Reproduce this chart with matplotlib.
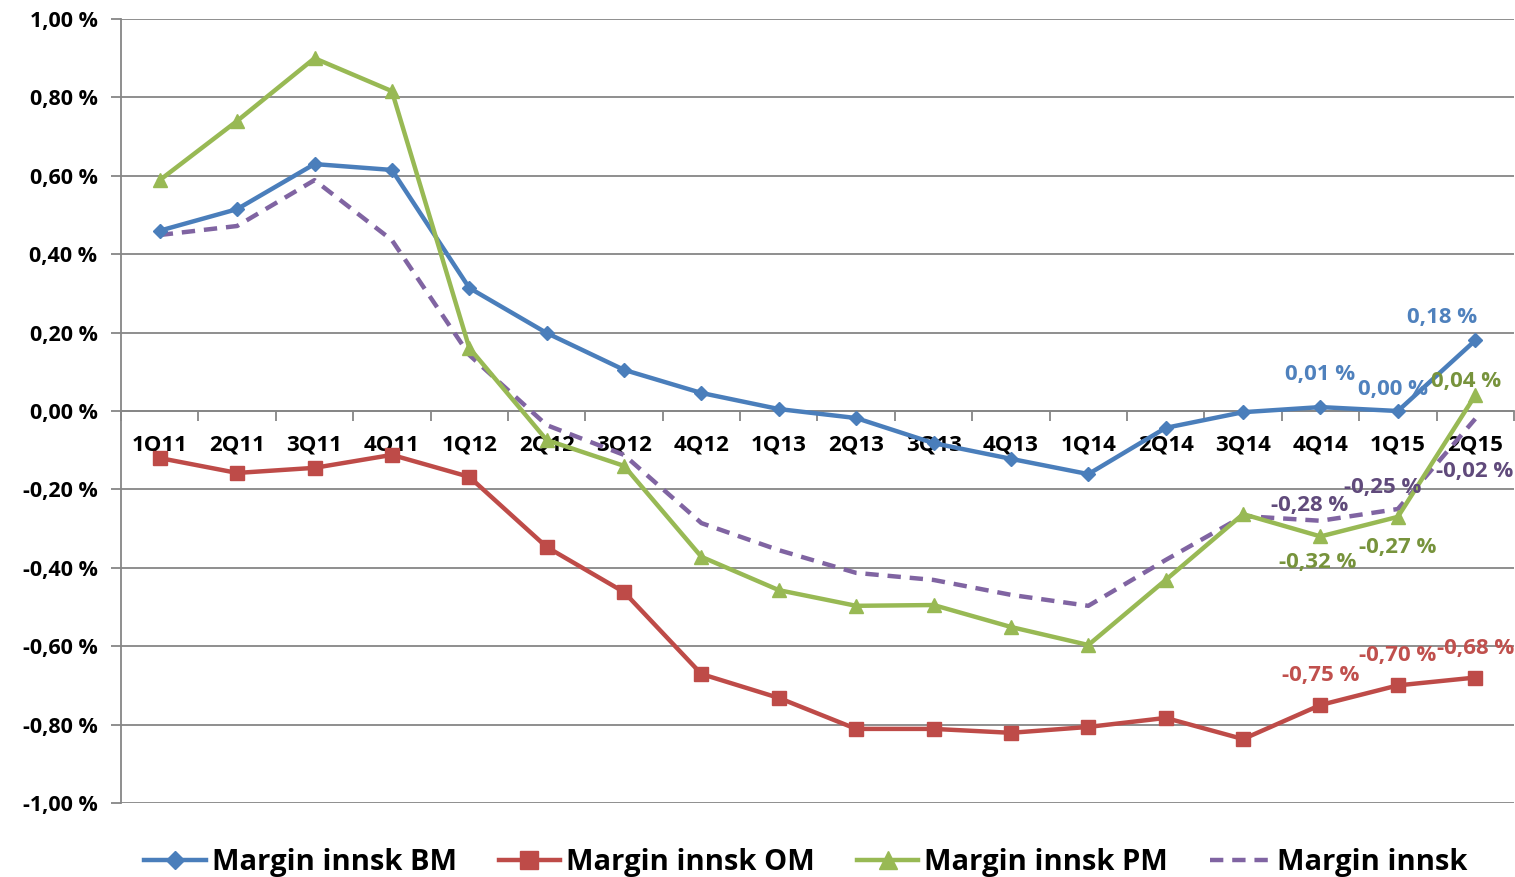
import matplotlib
matplotlib.use("Agg")
import matplotlib.pyplot as plt
from matplotlib.ticker import FuncFormatter, MultipleLocator

plt.rcParams['font.family'] = ['Open Sans', 'DejaVu Sans']
plt.rcParams['font.weight'] = 'bold'

# data
quarters = ['1Q11', '2Q11', '3Q11', '4Q11', '1Q12', '2Q12', '3Q12', '4Q12', '1Q13',
            '2Q13', '3Q13', '4Q13', '1Q14', '2Q14', '3Q14', '4Q14', '1Q15', '2Q15']
margin_bm = [0.46, 0.515, 0.63, 0.615, 0.314, 0.199, 0.105, 0.046, 0.005,
             -0.018, -0.082, -0.122, -0.161, -0.043, -0.003, 0.01, 0.0, 0.18]
margin_om = [-0.12, -0.158, -0.145, -0.112, -0.168, -0.347, -0.462, -0.671, -0.732,
             -0.811, -0.811, -0.821, -0.806, -0.783, -0.837, -0.75, -0.70, -0.68]
margin_pm = [0.589, 0.740, 0.90, 0.816, 0.161, -0.074, -0.14, -0.372, -0.457,
             -0.497, -0.495, -0.551, -0.597, -0.431, -0.263, -0.32, -0.27, 0.04]
margin_innsk = [0.449, 0.472, 0.589, 0.436, 0.143, -0.036, -0.112, -0.286, -0.355,
                -0.413, -0.431, -0.469, -0.497, -0.38, -0.268, -0.28, -0.25, -0.02]

x = list(range(len(quarters)))

fig = plt.figure(figsize=(15.15, 8.77), dpi=100)
ax = fig.add_axes([0.0799, 0.0844, 0.9194, 0.8939])

ax.plot(x, margin_bm, color='#4A7EBB', lw=3.2, marker='D', ms=7, label='Margin innsk BM', zorder=4)
ax.plot(x, margin_om, color='#BE4B48', lw=3.2, marker='s', ms=10, label='Margin innsk OM', zorder=4)
ax.plot(x, margin_pm, color='#98B954', lw=3.2, marker='^', ms=10, label='Margin innsk PM', zorder=4)
ax.plot(x, margin_innsk, color='#8064A2', lw=3.2, ls=(0, (3, 2)), label='Margin innsk', zorder=3)

ax.set_xlim(-0.5, len(quarters) - 0.5)
ax.set_ylim(-1.0, 1.0)
ax.yaxis.set_major_locator(MultipleLocator(0.2))
ax.yaxis.set_major_formatter(FuncFormatter(lambda v, p: ('%.2f %%' % v).replace('.', ',').replace('-0,00', '0,00')))
ax.grid(axis='y', color='#868686', lw=1.3)
ax.set_axisbelow(True)

for s in ['top', 'right']:
    ax.spines[s].set_visible(False)
ax.spines['left'].set_color('#868686')
ax.spines['left'].set_linewidth(1.3)
ax.spines['bottom'].set_position(('data', 0))
ax.spines['bottom'].set_color('#868686')
ax.spines['bottom'].set_linewidth(1.3)

ax.set_xticks([i - 0.5 for i in range(len(quarters) + 1)])
ax.set_xticklabels([])
ax.tick_params(axis='x', length=7, color='#868686', width=1.3, direction='out')
ax.tick_params(axis='y', length=7, color='#868686', width=1.3, labelsize=15.5, pad=10)
for i, q in enumerate(quarters):
    ax.text(i, -0.088, q, ha='center', va='center', fontsize=16, fontweight='bold', zorder=2)

# data labels on last three points
def lab(i, vals, txt, dx, dy, color):
    ax.annotate(txt, (i, vals[i]), xytext=(dx, dy), textcoords='offset pixels',
                ha='center', va='center', fontsize=16, fontweight='bold', color=color, zorder=6)

blue_t, red_t, green_t, purple_t = '#4F81BD', '#C0504D', '#77933C', '#604A7B'
lab(15, margin_bm, '0,01 %', 0, 33, blue_t)
lab(16, margin_bm, '0,00 %', -5, 22, blue_t)
lab(17, margin_bm, '0,18 %', -33, 23, blue_t)
lab(15, margin_om, '-0,75 %', 0, 29, red_t)
lab(16, margin_om, '-0,70 %', 0, 30, red_t)
lab(17, margin_om, '-0,68 %', 0, 29, red_t)
lab(15, margin_pm, '-0,32 %', -3, -26, green_t)
lab(16, margin_pm, '-0,27 %', 0, -31, green_t)
lab(17, margin_pm, '0,04 %', -9, 14, green_t)
lab(15, margin_innsk, '-0,28 %', -11, 15, purple_t)
lab(16, margin_innsk, '-0,25 %', -15, 21, purple_t)
lab(17, margin_innsk, '-0,02 %', -1, -53, purple_t)

leg = fig.legend(loc='lower center', bbox_to_anchor=(0.532, -0.03), ncol=4, frameon=False,
                 prop={'size': 21, 'weight': 'bold'}, handlelength=2.1, columnspacing=1.45,
                 handletextpad=0.2, markerscale=1.25)

fig.savefig('out.png', dpi=100)
